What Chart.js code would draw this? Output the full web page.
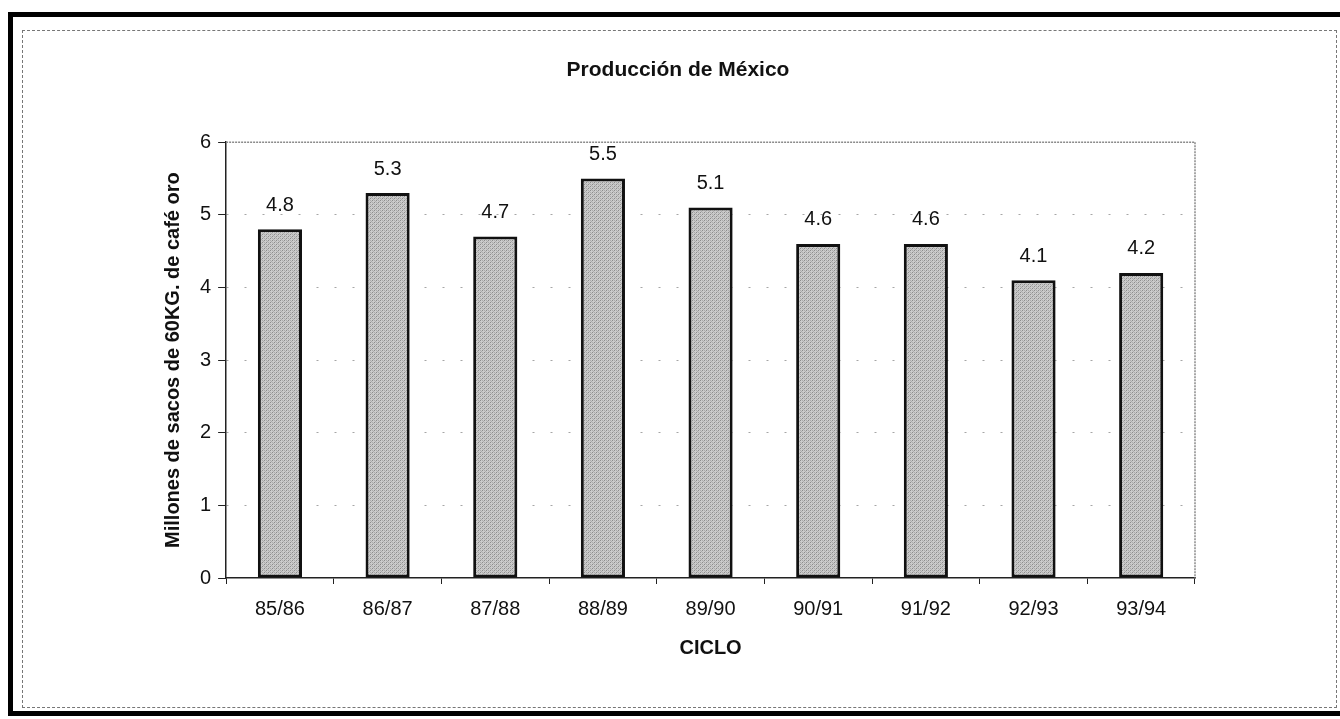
<!DOCTYPE html>
<html>
<head>
<meta charset="utf-8">
<script src="https://cdn.jsdelivr.net/npm/chart.js@4.4.1/dist/chart.umd.min.js"></script>
<style>
  html, body { margin: 0; padding: 0; background: #fff; }
  #wrap { position: relative; width: 1340px; height: 719px; overflow: hidden; }
  #outer { position: absolute; left: 8px; top: 12px; width: 1340px; height: 704px; border: 5px solid #000; border-right: none; box-sizing: border-box; }
  #inner { position: absolute; left: 22px; top: 30px; width: 1315px; height: 678px; border: 1px dashed #777; box-sizing: border-box; }
  canvas { position: absolute; left: 0; top: 0; }
</style>
</head>
<body>
<div id="wrap">
  <div id="outer"></div>
  <div id="inner"></div>
  <canvas id="chart" width="1340" height="719"></canvas>
</div>
<script>
var ciclos = ['85/86', '86/87', '87/88', '88/89', '89/90', '90/91', '91/92', '92/93', '93/94'];
var produccion = [4.8, 5.3, 4.7, 5.5, 5.1, 4.6, 4.6, 4.1, 4.2];
var yTicks = [0, 1, 2, 3, 4, 5, 6];

var FONT = '"Liberation Sans", Arial, sans-serif';

// gray halftone-like fill for the bars
function barPattern() {
  var c = document.createElement('canvas');
  c.width = 4; c.height = 4;
  var g = c.getContext('2d');
  g.fillStyle = '#cbcbcb';
  g.fillRect(0, 0, 4, 4);
  g.fillStyle = '#8c8c8c';
  g.fillRect(0, 0, 1, 1);
  g.fillRect(2, 2, 1, 1);
  g.fillStyle = '#ababab';
  g.fillRect(2, 0, 1, 1);
  g.fillRect(0, 2, 1, 1);
  g.fillRect(1, 3, 1, 1);
  g.fillRect(3, 1, 1, 1);
  return g.createPattern(c, 'repeat');
}

var valueLabels = {
  id: 'valueLabels',
  afterDatasetsDraw: function (chart) {
    var ctx = chart.ctx;
    var meta = chart.getDatasetMeta(0);
    ctx.save();
    ctx.font = '20px ' + FONT;
    ctx.fillStyle = '#111';
    ctx.textAlign = 'center';
    ctx.textBaseline = 'middle';
    meta.data.forEach(function (bar, i) {
      ctx.fillText(String(produccion[i]), bar.x, bar.y - 24);
    });
    ctx.restore();
  }
};

var plotFrame = {
  id: 'plotFrame',
  beforeDatasetsDraw: function (chart) {
    var a = chart.chartArea;
    var ctx = chart.ctx;
    ctx.save();
    ctx.strokeStyle = '#8a8a8a';
    ctx.lineWidth = 1.5;
    ctx.setLineDash([2, 1]);
    ctx.beginPath();
    ctx.moveTo(a.left, a.top);
    ctx.lineTo(a.right, a.top);
    ctx.lineTo(a.right, a.bottom);
    ctx.stroke();
    ctx.restore();
  }
};

new Chart(document.getElementById('chart'), {
  type: 'bar',
  data: {
    labels: ciclos,
    datasets: [{
      data: produccion,
      backgroundColor: barPattern(),
      borderColor: '#111',
      borderWidth: 3,
      borderSkipped: false,
      categoryPercentage: 1,
      barPercentage: 0.41
    }]
  },
  options: {
    responsive: false,
    animation: false,
    layout: { padding: { left: 161, right: 145, top: 58, bottom: 59 } },
    plugins: {
      legend: { display: false },
      tooltip: { enabled: false },
      title: {
        display: true,
        text: 'Producción de México',
        color: '#111',
        font: { family: FONT, size: 21, weight: 'bold' },
        padding: { top: 0, bottom: 59 }
      }
    },
    scales: {
      x: {
        offset: true,
        border: { color: '#222', width: 1.5 },
        grid: { display: true, drawOnChartArea: false, offset: true, tickColor: '#222', tickLength: 6 },
        ticks: { color: '#111', font: { family: FONT, size: 20 }, padding: 13, maxRotation: 0 },
        title: {
          display: true,
          text: 'CICLO',
          color: '#111',
          font: { family: FONT, size: 20, weight: 'bold' },
          padding: { top: 2, bottom: 0 }
        }
      },
      y: {
        min: 0,
        max: 6,
        afterBuildTicks: function (scale) {
          scale.ticks = yTicks.map(function (v) { return { value: v }; });
        },
        border: { color: '#222', width: 1.5, dash: [2, 16] },
        grid: {
          color: function (c) { return c.tick.value === 0 || c.tick.value === 6 ? 'rgba(0,0,0,0)' : 'rgba(0,0,0,0.35)'; },
          tickColor: '#222',
          tickLength: 8,
          lineWidth: 1
        },
        ticks: { color: '#111', font: { family: FONT, size: 20 }, padding: 7 },
        title: {
          display: true,
          text: 'Millones de sacos de 60KG. de café oro',
          color: '#111',
          font: { family: FONT, size: 20, weight: 'bold' },
          padding: { top: 0, bottom: 8 }
        }
      }
    }
  },
  plugins: [plotFrame, valueLabels]
});
</script>
</body>
</html>
